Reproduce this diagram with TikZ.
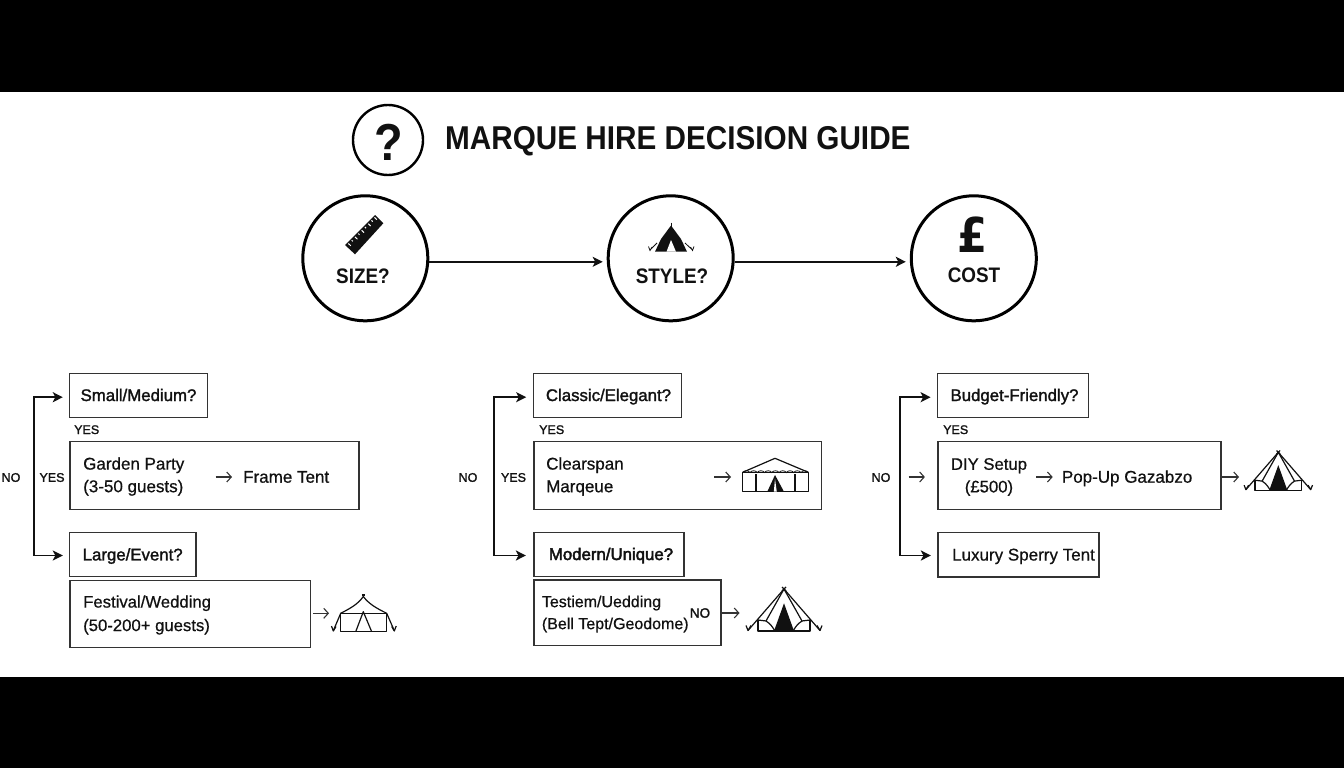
\documentclass[tikz,border=0pt]{standalone}
\usepackage{fontspec}
\setmainfont{Liberation Sans}
\newfontfamily\headf[FakeStretch=0.9]{Liberation Sans}
\newfontfamily\regf[FakeBold=0.6]{Liberation Sans}
\newfontfamily\medf[FakeBold=1.6]{Liberation Sans}
\newfontfamily\semif[FakeBold=2.6]{Liberation Sans}
\newfontfamily\poundf[FakeStretch=0.9]{DejaVu Sans}
\usetikzlibrary{arrows.meta,calc}
\definecolor{ink}{HTML}{111111}
\definecolor{edge}{HTML}{333333}
\tikzset{
  x=1pt,y=-1pt,
  bigcirc/.style={draw=black,line width=3pt,circle,minimum size=125pt,inner sep=0},
  qcirc/.style={draw=black,line width=2.4pt,circle,minimum size=70pt,inner sep=0},
  circlbl/.style={anchor=base,inner sep=0,text=ink,font=\headf\bfseries\fontsize{21}{24}\selectfont},
  boxn/.style={draw=edge,line width=1.2pt,inner sep=0,text=ink,text height=14pt,text depth=2.6pt,
     font=\medf\fontsize{16.8}{20}\selectfont},
  multi/.style={anchor=west,inner sep=0,align=left,text=ink,font=\regf\fontsize{17}{22.6}\selectfont},
  plain/.style={anchor=base west,inner sep=0,text=ink,font=\regf\fontsize{17}{22.6}\selectfont},
  tag/.style={inner sep=0,text=ink,font=\medf\fontsize{12.5}{14}\selectfont},
  mainarr/.style={draw=ink,line width=1.8pt,-{Stealth[length=10pt,width=10pt,inset=2.5pt]}},
  thinarr/.style={draw=edge,line width=1.1pt,-{Straight Barb[length=4.5pt,width=10pt]}},
  icon/.style={draw=ink,line width=1.2pt,line join=round},
  belltent/.pic={
    \draw[icon] (-26,31) -- (-26,42) -- (26,42) -- (26,31);
    \draw[icon] (-26,31) -- (-18,32) .. controls (-13,35) and (-11,39) .. (-9,42);
    \draw[icon] (26,31) -- (18,32) .. controls (13,35) and (11,39) .. (9,42);
    \fill[ink] (0,14.3) -- (-10,42) -- (10,42) -- cycle;
    \draw[icon] (-36,41.5) -- (0,0) -- (36,41.5);
    \draw[icon] (-18,32) -- (0,0) -- (18,32);
    \draw[icon] (-38,36.5) -- (-36,41.5) -- (-33,36.5);
    \draw[icon] (38,36.5) -- (36,41.5) -- (33,36.5);
    \draw[icon] (-2,-2) -- (2,2) (2,-2) -- (-2,2);
  }
}
\newcommand{\bx}[6]{%
  \pgfmathsetmacro\bw{#4-#2}\pgfmathsetmacro\bh{#5-#3}%
  \pgfmathsetmacro\cx{(#2+#4)/2}\pgfmathsetmacro\cy{(#3+#5)/2}%
  \node[boxn,minimum width=\bw pt,minimum height=\bh pt] (#1) at (\cx,\cy) {#6};}
\begin{document}
\begin{tikzpicture}
\useasboundingbox (0,0) rectangle (1344,768);
\fill[white] (0,0) rectangle (1344,768);
\fill[black] (0,0) rectangle (1344,92);
\fill[black] (0,677) rectangle (1344,768);

% title
\node[qcirc] (qmark) at (388,140) {};
\node[anchor=base,inner sep=0,text=ink] (qglyph) at (388.5,160) {\headf\bfseries\fontsize{52}{52}\selectfont ?};
\node[anchor=base west,inner sep=0,text=ink] (title) at (445,149.5) {\headf\bfseries\fontsize{33}{36}\selectfont MARQUE HIRE DECISION GUIDE};

% main circles
\node[bigcirc] (size) at (365.3,258.3) {};
\node[bigcirc] (style) at (670.7,258.3) {};
\node[bigcirc] (cost) at (973.8,258.3) {};
\node[circlbl] (sizelbl) at (363,283) {SIZE?};
\node[circlbl] (stylelbl) at (672,283) {STYLE?};
\node[circlbl] (costlbl) at (974,282) {COST};
\node[anchor=base,inner sep=0,text=ink] (pound) at (973,252.5) {\poundf\bfseries\fontsize{48}{48}\selectfont £};
\draw[mainarr,line width=1.7pt,shorten >=4pt] ([yshift=-3.5pt]size.east) -- ([yshift=-3.5pt]style.west);
\draw[mainarr,line width=1.7pt,shorten >=4pt] ([yshift=-3.5pt]style.east) -- ([yshift=-3.5pt]cost.west);

% ruler icon
\coordinate (ra) at (345,245);
\coordinate (rb) at (355,254.3);
\coordinate (rc) at (383.3,223.3);
\coordinate (rd) at (375,215);
\fill[ink] (ra) -- (rb) -- (rc) -- (rd) -- cycle;
\foreach \t/\l in {0.08/0.34,0.19/0.22,0.3/0.34,0.41/0.22,0.52/0.34,0.63/0.22,0.74/0.34,0.85/0.22,0.95/0.34}{
  \draw[white,line width=1pt] ($(ra)!\t!(rd)+(1,0.9)$) -- ($(ra)!\t!(rd)+(10*\l,9.3*\l)$);
}

% style tent icon
\fill[ink] (671,225.5) -- (661,239) -- (655,251.7) -- (687,251.7) -- (681,239) -- cycle;
\fill[white] (671,240) -- (666.5,251.7) -- (676,251.7) -- cycle;
\draw[ink,line width=1pt] (671,222.5) -- (671,227);
\draw[ink,line width=.8pt] (657,243) -- (650,250) (648.5,246.5) -- (650,250.5) -- (652,247);
\draw[ink,line width=.8pt] (685,243) -- (692.5,250) (694,246.5) -- (692.5,250.5) -- (690.5,247);

% column 1
\coordinate (ta) at (33.7,397.2);
\coordinate (tb) at (33.7,555.5);
\bx{small}{69.4}{373.3}{207.6}{417.3}{Small/Medium?}
\bx{garden}{70}{441.7}{359}{509.2}{}
\bx{large}{69.4}{532.7}{196}{576.7}{Large/Event?}
\bx{fest}{70}{580.3}{310.5}{647.7}{}
\node[multi] (gardent) at (83,476.5) {Garden Party\\(3-50 guests)};
\node[plain] (frame) at (243,482.7) {Frame Tent};
\node[multi,font=\regf\fontsize{16.7}{23.5}\selectfont] (festt) at (83,615) {Festival/Wedding\\(50-200+ guests)};
\node[tag,anchor=base west] (yes1) at (74,434) {YES};
\node[tag] (no1) at (11,477.5) {NO};
\node[tag] (yes1b) at (52,477.5) {YES};
\draw[mainarr,shorten >=6pt] (tb) -- (ta) -- (ta -| small.west);
\draw[mainarr,shorten >=6pt] (tb) -- (tb -| large.west);
\draw[thinarr,shorten <=31pt,shorten >=11pt] (gardent.east |- 0,477) -- (frame.west |- 0,477);
\coordinate (festend) at (329,613.3);
\draw[thinarr,shorten <=2pt] (fest.east |- festend) -- (festend);
% frame tent icon
\draw[icon] (340.7,613.3) rectangle (386.7,631.7);
\draw[icon] (355.7,631.7) -- (363.3,611.7) -- (371.7,631.7);
\draw[icon] (333.3,630.7) -- (340.7,613.3) .. controls (351,608) and (358,604) .. (363.3,596.5) .. controls (369,604) and (376,608) .. (386.7,613.3) -- (394.3,630.7);
\draw[icon] (331.5,626) -- (333.3,631) -- (336,626.5);
\draw[icon] (396.2,626) -- (394.3,631) -- (391.7,626.5);
\draw[icon] (361.8,595) -- (364.8,595);

% column 2
\coordinate (tc) at (493.7,397.2);
\coordinate (td) at (493.7,555.5);
\bx{classic}{533.3}{373.3}{681.3}{417.3}{\hspace*{2.4pt}Classic/Elegant?}
\bx{clear}{534}{441.7}{821.5}{509.2}{}
\bx{modern}{534}{532.3}{684}{576.3}{\hspace*{4pt}\semif Modern/Unique?}
\bx{testi}{534}{580}{721}{645.3}{}
\node[multi] (cleart) at (546,476.5) {Clearspan\\Marqeue};
\node[multi,font=\regf\fontsize{16}{22}\selectfont] (testit) at (541.7,614) {Testiem/Uedding\\(Bell Tept/Geodome)};
\node[tag,anchor=base west] (yes2) at (539,434) {YES};
\node[tag] (no2) at (468,477.5) {NO};
\node[tag] (yes2b) at (513.5,477.5) {YES};
\node[tag,font=\medf\fontsize{13.5}{14}\selectfont] (no2b) at (700,613) {NO};
\draw[mainarr,shorten >=6.5pt] (td) -- (tc) -- (tc -| classic.west);
\draw[mainarr,shorten >=7.5pt] (td) -- (td -| modern.west);
\coordinate (clearstart) at (714.3,477);
\coordinate (clearend) at (731,477);
\draw[thinarr] (clearstart) -- (clearend);
\coordinate (testiend) at (739.5,613);
\draw[thinarr] (testi.east |- testiend) -- (testiend);
% clearspan tent icon
\draw[icon] (742.7,472.3) rectangle (808.3,491.7);
\draw[icon] (742.7,472.3) -- (775,458.3) -- (808.3,472.3);
\draw[icon] (756,474) -- (756,491.7) (795,474) -- (795,491.7);
\draw[ink,line width=.8pt] (742.7,472.6) foreach \i in {1,...,9}{ to[bend left=60] ++(7.28,0)};
\fill[ink] (775,475) -- (767.3,491.7) -- (784,491.7) -- cycle;
\fill[white] (775,479) -- (773.8,491.7) -- (776.8,491.7) -- cycle;

\pic at (784,589) {belltent};

% column 3
\coordinate (te) at (900,397.2);
\coordinate (tf) at (900,555.5);
\bx{budget}{937.7}{373.3}{1088.3}{417.3}{\hspace*{3pt}Budget-Friendly?}
\bx{diy}{938}{441.7}{1221}{509.5}{}
\bx{luxury}{938}{532.7}{1099}{577}{\hspace*{10pt}\regf\fontsize{17}{20}\selectfont Luxury Sperry Tent}
\node[multi,align=center,font=\regf\fontsize{16.7}{22.6}\selectfont] (diyt) at (950.7,477) {DIY Setup\\(£500)};
\node[plain] (popup) at (1061.7,482.7) {Pop-Up Gazabzo};
\node[tag,anchor=base west] (yes3) at (943,434) {YES};
\node[tag] (no3) at (881,477.5) {NO};
\draw[mainarr,shorten >=6.5pt] (tf) -- (te) -- (te -| budget.west);
\draw[mainarr,shorten >=6.5pt] (tf) -- (tf -| luxury.west);
\draw[thinarr,shorten <=18pt,shorten >=12.5pt] (no3.east |- 0,477) -- (diy.west |- 0,477);
\draw[thinarr,shorten <=9pt,shorten >=9pt] (diyt.east |- 0,477) -- (popup.west |- 0,477);
\coordinate (diyend) at (1239,477);
\draw[thinarr] (diy.east |- diyend) -- (diyend);
\pic[scale=.9] at (1278.3,452.3) {belltent};
\end{tikzpicture}
\end{document}
